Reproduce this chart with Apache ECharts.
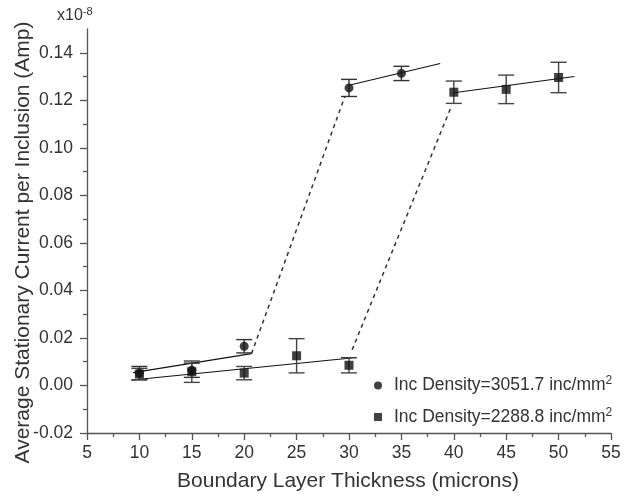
<!DOCTYPE html>
<html>
<head>
<meta charset="utf-8">
<script src="https://cdn.jsdelivr.net/npm/echarts@6/dist/echarts.min.js"></script>
<style>html,body{margin:0;padding:0;background:#fff}#c{width:624px;height:497px}</style>
</head>
<body>
<div id="c"></div>
<script>
// ---- data ----
const xCirc = [10, 15, 20, 30, 35];
const yCirc = [0.0052, 0.0064, 0.0165, 0.1252, 0.1313];
const eCirc = [0.0028, 0.0030, 0.0028, 0.0036, 0.0030];

const xSq = [10, 15, 20, 25, 30, 40, 45, 50];
const ySq = [0.0048, 0.0058, 0.0052, 0.0125, 0.0085, 0.1234, 0.1246, 0.1296];
const eSq = [0.0024, 0.0045, 0.0028, 0.0072, 0.0032, 0.0047, 0.0060, 0.0064];

// fitted segments (end points)
const fitCircLowX = [9.4, 20.7],  fitCircLowY = [0.0054, 0.0134];
const fitCircHighX = [30, 38.7],  fitCircHighY = [0.1263, 0.1355];
const fitSqLowX = [9.3, 30.7],    fitSqLowY = [0.0023, 0.0118];
const fitSqHighX = [40, 51.5],    fitSqHighY = [0.1232, 0.1300];
// dashed transitions
const dashCircX = [20.7, 29.6],   dashCircY = [0.0134, 0.1215];
const dashSqX = [30.3, 39.8],     dashSqY = [0.0150, 0.1178];

const yTicks = [-0.02, 0.00, 0.02, 0.04, 0.06, 0.08, 0.10, 0.12, 0.14];
const xTicks = [5, 10, 15, 20, 25, 30, 35, 40, 45, 50, 55];

const nameCirc = 'Inc Density=3051.7 inc/mm';
const nameSq = 'Inc Density=2288.8 inc/mm';

// ---- build ----
const FONT = '"Liberation Sans", Arial, Helvetica, sans-serif';
const pairs = (xs, ys) => xs.map((x, i) => [x, ys[i]]);
const errData = (xs, ys, es) => xs.map((x, i) => [x, ys[i] - es[i], ys[i] + es[i]]);

function errRender(color) {
  return function (params, api) {
    const x = api.value(0);
    const lo = api.coord([x, api.value(1)]);
    const hi = api.coord([x, api.value(2)]);
    const w = 8;
    const st = { stroke: color, lineWidth: 1.4 };
    return {
      type: 'group',
      children: [
        { type: 'line', shape: { x1: lo[0], y1: lo[1], x2: hi[0], y2: hi[1] }, style: st },
        { type: 'line', shape: { x1: lo[0] - w, y1: lo[1], x2: lo[0] + w, y2: lo[1] }, style: st },
        { type: 'line', shape: { x1: hi[0] - w, y1: hi[1], x2: hi[0] + w, y2: hi[1] }, style: st }
      ]
    };
  };
}

function lineSeries(xs, ys, dashed) {
  return {
    type: 'line', data: pairs(xs, ys), symbol: 'none', silent: true, z: 2,
    lineStyle: dashed ? { color: '#333', width: 1.5, type: [4, 4] } : { color: '#111', width: 1.1 }
  };
}

const chart = echarts.init(document.getElementById('c'), null, { renderer: 'canvas' });
chart.setOption({
  animation: false,
  backgroundColor: '#fff',
  textStyle: { fontFamily: FONT },
  grid: { left: 87, right: 13, top: 29, bottom: 64 },
  xAxis: {
    type: 'value', min: 5, max: 55, interval: 5,
    axisLine: { onZero: false, lineStyle: { color: '#555', width: 1.3 } },
    axisTick: { length: 7, lineStyle: { color: '#555', width: 1.3 } },
    minorTick: { show: true, splitNumber: 2, length: 4, lineStyle: { color: '#555', width: 1.3 } },
    splitLine: { show: false },
    axisLabel: { fontSize: 17.5, color: '#333', fontFamily: FONT, margin: 11,
      formatter: v => xTicks.includes(v) ? String(v) : '' }
  },
  yAxis: {
    type: 'value', min: -0.02, max: 0.15, interval: 0.02,
    axisLine: { show: true, onZero: false, lineStyle: { color: '#555', width: 1.3 } },
    axisTick: { show: true, length: 7, lineStyle: { color: '#555', width: 1.3 }, customValues: yTicks },
    minorTick: { show: true, splitNumber: 2, length: 4, lineStyle: { color: '#555', width: 1.3 } },
    splitLine: { show: false },
    axisLabel: { fontSize: 17.5, color: '#333', fontFamily: FONT, margin: 14, customValues: yTicks,
      formatter: v => v.toFixed(2) }
  },
  legend: {
    orient: 'vertical', left: 369, top: 370,
    itemWidth: 8, itemHeight: 8, itemGap: 12,
    data: [{ name: nameCirc, icon: 'circle' }, { name: nameSq, icon: 'rect' }],
    formatter: n => n + '{sup|2}',
    textStyle: { fontSize: 17.5, color: '#333', fontFamily: FONT, padding: [0, 0, 0, 7],
      rich: { sup: { fontSize: 12, color: '#333', fontFamily: FONT, padding: [0, 0, 9, 0] } } }
  },
  graphic: [
    { type: 'text', left: 57, top: 6,
      style: { text: 'x10{s|-8}', fill: '#333', font: '16px ' + FONT,
        rich: { s: { fontSize: 11, fill: '#333', padding: [0, 0, 8, 0] } } } },
    { type: 'text', x: 23, y: 242.5, rotation: Math.PI / 2,
      style: { text: 'Average Stationary Current per Inclusion (Amp)', fill: '#333',
        font: '21px ' + FONT, align: 'center', verticalAlign: 'middle' } },
    { type: 'text', x: 348, y: 481,
      style: { text: 'Boundary Layer Thickness (microns)', fill: '#333',
        font: '21px ' + FONT, align: 'center', verticalAlign: 'middle' } }
  ],
  series: [
    lineSeries(dashCircX, dashCircY, true),
    lineSeries(dashSqX, dashSqY, true),
    lineSeries(fitCircLowX, fitCircLowY, false),
    lineSeries(fitCircHighX, fitCircHighY, false),
    lineSeries(fitSqLowX, fitSqLowY, false),
    lineSeries(fitSqHighX, fitSqHighY, false),
    { type: 'custom', data: errData(xCirc, yCirc, eCirc), renderItem: errRender('#333'),
      encode: { x: 0, y: [1, 2] }, z: 3, silent: true },
    { type: 'custom', data: errData(xSq, ySq, eSq), renderItem: errRender('#444'),
      encode: { x: 0, y: [1, 2] }, z: 3, silent: true },
    { type: 'scatter', name: nameCirc, data: pairs(xCirc, yCirc), symbol: 'circle', symbolSize: 9,
      itemStyle: { color: '#111' }, z: 4 },
    { type: 'scatter', name: nameSq, data: pairs(xSq, ySq), symbol: 'rect', symbolSize: 9,
      itemStyle: { color: '#111' }, z: 4 }
  ]
});
</script>
</body>
</html>
